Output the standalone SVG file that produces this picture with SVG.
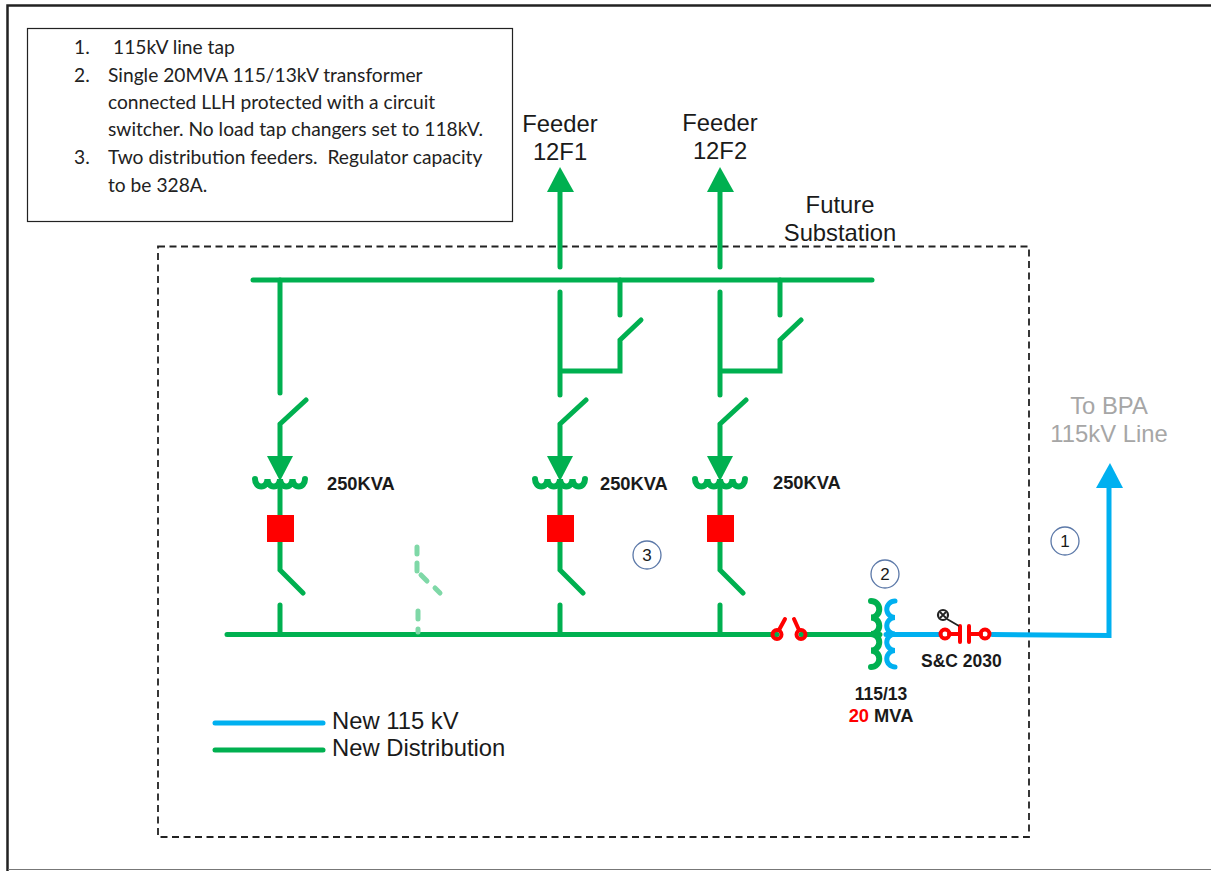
<svg xmlns="http://www.w3.org/2000/svg" width="1211" height="871" viewBox="0 0 1211 871">
<style>
text{font-family:"Liberation Sans",Arial,sans-serif;fill:#1a1a1a}
.note{font-family:Lato,"Noto Sans",sans-serif;font-size:19.200px;fill:#222}
.lab{font-size:23.800px;text-anchor:middle}
.b{font-size:17.500px;font-weight:bold}
.k{font-size:18.300px;font-weight:bold}
.g{fill:none;stroke:#00b050;stroke-width:5;stroke-linecap:round;stroke-linejoin:miter}
.c{stroke-width:6}
.u{fill:none;stroke:#00b0f0;stroke-width:5;stroke-linecap:round;stroke-linejoin:miter}
.ghost{fill:none;stroke:#7fd8a7;stroke-width:5;stroke-linecap:round}
.r{fill:none;stroke:#ff0000;stroke-width:4;stroke-linecap:round}
.gf{fill:#00b050}
.sq{fill:#ff0000}
.num{fill:#fff;stroke:#5b78a8;stroke-width:1.300}
.numt{font-size:17px;text-anchor:middle}
</style>
<defs>
<path id="reg" class="g c" d="M-25 -1 A6.250 7.500 0 0 0 -12.500 -1 A6.250 7.500 0 0 0 0 -1 A6.250 7.500 0 0 0 12.500 -1 A6.250 7.500 0 0 0 25 -1"/>
<g id="feederdrop">
<path class="g" d="M0 424 L26 400 M0 424 V462 M0 484 V515 M0 541 V570 L23 593 M0 605 V634"/>
<use href="#reg" y="480"/>
<polygon class="gf" points="-13,456 13,456 0,481"/>
<rect class="sq" x="-13" y="515" width="27" height="27"/>
</g>
<g id="bypass">
<path class="g" d="M0 292 V395 M0 371 H60 V340 L81 320 M60 280 V315"/>
</g>
</defs>
<g id="frame">
<path d="M7.500 871 V5.500 H1211" fill="none" stroke="#222" stroke-width="2.500"/>
<path d="M8 869.500 H1211" fill="none" stroke="#777" stroke-width="1.200"/>
</g>
<g id="note">
<rect x="27.500" y="28.500" width="485" height="193" fill="#fff" stroke="#222" stroke-width="1.200"/>
<text class="note" x="74" y="54">1.</text><text class="note" x="113" y="54">115kV line tap</text>
<text class="note" x="74" y="82">2.</text><text class="note" x="108" y="82">Single 20MVA 115/13kV transformer</text>
<text class="note" x="108" y="109">connected LLH protected with a circuit</text>
<text class="note" x="108" y="136">switcher. No load tap changers set to 118kV.</text>
<text class="note" x="74" y="164">3.</text><text class="note" x="108" y="164" xml:space="preserve">Two distribution feeders.  Regulator capacity</text>
<text class="note" x="108" y="192">to be 328A.</text>
</g>
<g id="substation-boundary">
<rect x="158" y="246.500" width="871" height="590.500" fill="none" stroke="#222" stroke-width="1.800" stroke-dasharray="7 4.500"/>
<text class="lab" x="840" y="213">Future</text>
<text class="lab" x="840" y="241">Substation</text>
</g>
<g id="connectors">
<path class="g" d="M253 280 H872"/>
<path class="g" d="M227 634.500 H777 M801 634.500 H880"/>
<path class="u" d="M886 634.500 H940 M992 634.500 L1109 635.500 V486"/>
<path class="g" d="M280 280 V393"/>
<path class="g" d="M560 190 V267"/>
<path class="g" d="M720 190 V267"/>
<path class="ghost" d="M417 547 V554 M417 563 V571 M421 575 L427 581 M435 588 L440 593 M418 611 V619 M418 629 V632"/>
</g>
<g id="feeder-arrow-12F1">
<polygon class="gf" points="547,192 574,192 560,167"/>
<text class="lab" x="560" y="132">Feeder</text><text class="lab" x="560" y="160">12F1</text>
</g>
<g id="feeder-arrow-12F2">
<polygon class="gf" points="707,192 734,192 720,167"/>
<text class="lab" x="720" y="131">Feeder</text><text class="lab" x="720" y="159">12F2</text>
</g>
<g id="branch-1"><use href="#feederdrop" x="280"/><text class="k" x="327" y="490">250KVA</text></g>
<g id="branch-2"><use href="#bypass" x="560"/><use href="#feederdrop" x="560"/><text class="k" x="600" y="490">250KVA</text></g>
<g id="branch-3"><use href="#bypass" x="720"/><use href="#feederdrop" x="720"/><text class="k" x="773" y="489">250KVA</text></g>
<g id="disconnect">
<circle class="r" cx="777" cy="634.500" r="4.500"/><circle class="r" cx="801" cy="634.500" r="4.500"/>
<path class="r" d="M779 630 L785 619 M799 630 L794 619"/>
</g>
<g id="transformer">
<path class="g c" d="M871 601 A8.250 8.250 0 0 1 871 617.500 A8.250 8.250 0 0 1 871 634 A8.250 8.250 0 0 1 871 650.500 A8.250 8.250 0 0 1 871 667"/>
<path class="u c" d="M895 601 A8.250 8.250 0 0 0 895 617.500 A8.250 8.250 0 0 0 895 634 A8.250 8.250 0 0 0 895 650.500 A8.250 8.250 0 0 0 895 667"/>
<text class="b" x="881" y="700" text-anchor="middle">115/13</text>
<text class="k" x="881" y="722" text-anchor="middle"><tspan fill="#ff0000">20</tspan> MVA</text>
</g>
<g id="circuit-switcher">
<circle class="r" cx="945" cy="634" r="4.500"/><circle class="r" cx="985" cy="634" r="4.500"/>
<path class="r" d="M949 634 H960 M960 626 V642 M969 626 V642 M969 634 H981"/>
<circle cx="943" cy="615" r="5" fill="none" stroke="#222" stroke-width="2.200"/>
<path d="M940 612 L946 618 M946 612 L940 618 M947 619 L959 626" fill="none" stroke="#222" stroke-width="1.800"/>
<text class="b" x="921" y="667">S&amp;C 2030</text>
</g>
<g id="bpa-arrow">
<polygon points="1096,488 1123,488 1110,463" fill="#00b0f0"/>
<text class="lab" x="1109" y="414" style="fill:#a6a6a6">To BPA</text>
<text class="lab" x="1109" y="442" style="fill:#a6a6a6">115kV Line</text>
</g>
<g id="callout-1"><circle class="num" cx="1065" cy="541" r="14"/><text class="numt" x="1065" y="547">1</text></g>
<g id="callout-2"><circle class="num" cx="885" cy="574" r="14"/><text class="numt" x="885" y="580">2</text></g>
<g id="callout-3"><circle class="num" cx="647" cy="555" r="14"/><text class="numt" x="647" y="561">3</text></g>
<g id="legend">
<path class="u" d="M215 723 H323"/>
<path class="g" d="M215 750 H323"/>
<text x="332" y="729" font-size="23.800">New 115 kV</text>
<text x="332" y="756" font-size="23.800">New Distribution</text>
</g>
</svg>
